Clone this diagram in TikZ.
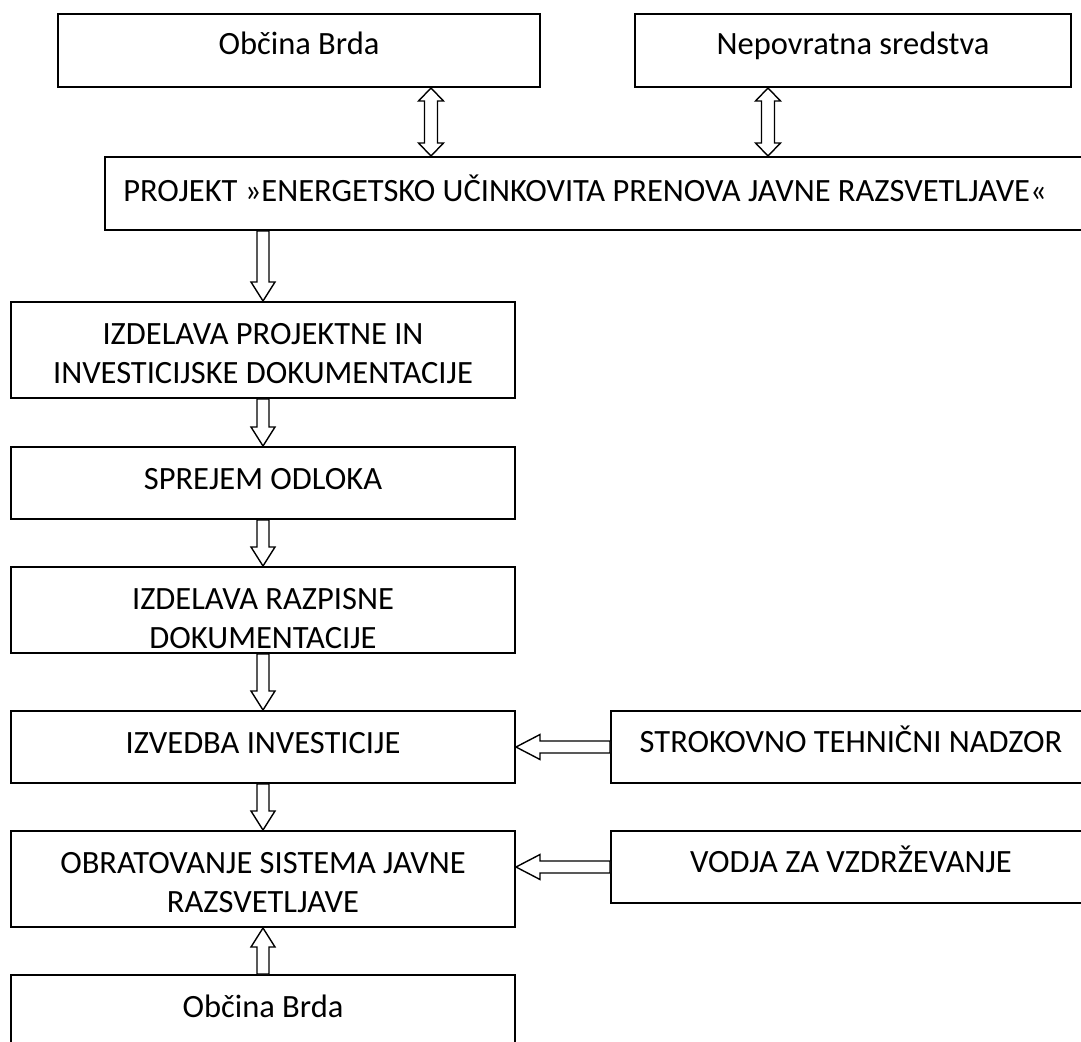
\documentclass[tikz,border=0pt]{standalone}
\usepackage{fontspec}
\setmainfont{Carlito}
\usetikzlibrary{calc}
\newcommand\blockarrow[5]{% #1 tail, #2 tip, #3 head length, #4 head half width, #5 shaft half width
  \path ($(#2)!#3!(#1)$) coordinate (hbase);
  \draw[blk] ($(#1)!#5!90:(#2)$) -- ($(hbase)!#5!90:(#2)$) -- ($(hbase)!#4!90:(#2)$) -- (#2)
    -- ($(hbase)!#4!-90:(#2)$) -- ($(hbase)!#5!-90:(#2)$) -- ($(#1)!#5!-90:(#2)$) -- cycle;}
\newcommand\doublearrow[2]{% #1 tip one, #2 tip two
  \path ($(#1)!13pt!(#2)$) coordinate (hone) ($(#2)!13pt!(#1)$) coordinate (htwo);
  \draw[blk] (#1) -- ($(hone)!12.5pt!90:(#2)$) -- ($(hone)!6.5pt!90:(#2)$) -- ($(htwo)!6.5pt!90:(#2)$)
    -- ($(htwo)!12.5pt!90:(#2)$) -- (#2) -- ($(htwo)!12.5pt!-90:(#2)$) -- ($(htwo)!6.5pt!-90:(#2)$)
    -- ($(hone)!6.5pt!-90:(#2)$) -- ($(hone)!12.5pt!-90:(#2)$) -- cycle;}
\begin{document}
\begin{tikzpicture}[x=1pt,y=-1pt,
  box/.style={draw, line width=2pt, inner sep=0pt},
  lbl/.style={anchor=base, font=\fontsize{32.5}{39}\selectfont, inner sep=0pt, align=center},
  blk/.style={draw, line width=1.4pt, fill=white, line join=miter}]
\useasboundingbox (0,0) rectangle (1081,1041);
\clip (0,0) rectangle (1081,1041);
\fill[white] (0,0) rectangle (1081,1041);
% boxes
\node[box, minimum width=482pt, minimum height=73pt] (b1) at (299,50.5) {};
\node[box, minimum width=436pt, minimum height=73pt] (b2) at (853,50.5) {};
\node[box, minimum width=1015pt, minimum height=73pt] (proj) at (612.5,193.5) {};
\node[box, minimum width=504pt, minimum height=96pt] (b3) at (263,350) {};
\node[box, minimum width=504pt, minimum height=72pt] (b4) at (263,483) {};
\node[box, minimum width=504pt, minimum height=86pt] (b5) at (263,610) {};
\node[box, minimum width=504pt, minimum height=72pt] (b6) at (263,747) {};
\node[box, minimum width=504pt, minimum height=96pt] (b7) at (263,879) {};
\node[box, minimum width=504pt, minimum height=85pt] (b8) at (263,1017.5) {};
\node[box, minimum width=480pt, minimum height=72pt] (r1) at (851,747) {};
\node[box, minimum width=480pt, minimum height=72pt] (r2) at (851,867) {};
% texts (multi-line nodes: base = last line)
\node[lbl] (t1) at (299,55) {Občina Brda};
\node[lbl] (t2) at (853,55) {Nepovratna sredstva};
\node[lbl] (tp) at (585,201) {PROJEKT »ENERGETSKO UČINKOVITA PRENOVA JAVNE RAZSVETLJAVE«};
\node[lbl] (t3) at (263,383) {IZDELAVA PROJEKTNE IN\\INVESTICIJSKE DOKUMENTACIJE};
\node[lbl] (t4) at (263,489) {SPREJEM ODLOKA};
\node[lbl] (t5) at (263,648) {IZDELAVA RAZPISNE\\DOKUMENTACIJE};
\node[lbl] (t6) at (263,753) {IZVEDBA INVESTICIJE};
\node[lbl] (t7) at (263,912) {OBRATOVANJE SISTEMA JAVNE\\RAZSVETLJAVE};
\node[lbl] (t8) at (263,1017) {Občina Brda};
\node[lbl] (tr1) at (851,752) {STROKOVNO TEHNIČNI NADZOR};
\node[lbl] (tr2) at (851,872) {VODJA ZA VZDRŽEVANJE};
% connector anchor points
\coordinate (xa) at (431,0);
\coordinate (xb) at (768,0);
\coordinate (a1s) at (b1.south -| xa);
\coordinate (a1e) at (proj.north -| xa);
\coordinate (a2s) at (b2.south -| xb);
\coordinate (a2e) at (proj.north -| xb);
\coordinate (p3) at (proj.south -| b3.north);
\doublearrow{a1s}{a1e}
\doublearrow{a2s}{a2e}
\blockarrow{p3}{b3.north}{19pt}{12pt}{6pt}
\blockarrow{b3.south}{b4.north}{19pt}{12pt}{6pt}
\blockarrow{b4.south}{b5.north}{19pt}{12pt}{6pt}
\blockarrow{b5.south}{b6.north}{19pt}{12pt}{6pt}
\blockarrow{b6.south}{b7.north}{19pt}{12pt}{6pt}
\blockarrow{b8.north}{b7.south}{19pt}{12pt}{6pt}
\blockarrow{r1.west}{b6.east}{24pt}{12.5pt}{6pt}
\blockarrow{r2.west}{b7.east |- r2.west}{24pt}{12.5pt}{6pt}
\end{tikzpicture}
\end{document}
